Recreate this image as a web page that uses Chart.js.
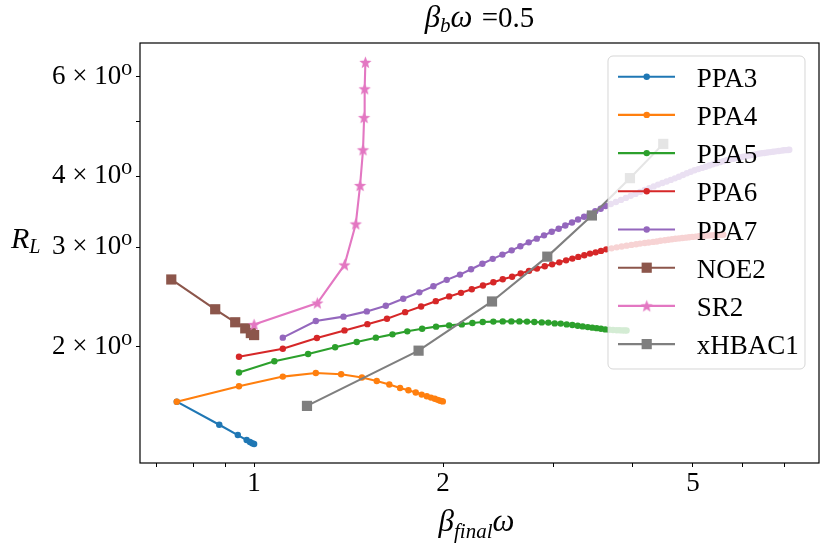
<!DOCTYPE html>
<html>
<head>
<meta charset="utf-8">
<script src="https://cdn.jsdelivr.net/npm/chart.js@4.4.0/dist/chart.umd.min.js"></script>
<style>
body { margin: 0; background: #fff; }
#wrap { width: 830px; height: 546px; }
</style>
</head>
<body>
<div id="wrap"><canvas id="c" width="830" height="546"></canvas></div>
<script>
// x = beta_final*omega, y = R_L, one pair of arrays per method
var ppa3X = [0.753, 0.880, 0.942, 0.973, 0.985, 0.993, 1.0];
var ppa3Y = [1.600, 1.457, 1.397, 1.369, 1.358, 1.351, 1.347];

var ppa4X = [0.753, 0.946, 1.111, 1.254, 1.376, 1.485, 1.568, 1.642, 1.708, 1.761, 1.809, 1.849, 1.884, 1.913, 1.940, 1.961, 1.978, 1.990, 1.998];
var ppa4Y = [1.600, 1.704, 1.772, 1.798, 1.789, 1.765, 1.741, 1.716, 1.692, 1.676, 1.661, 1.647, 1.636, 1.627, 1.619, 1.612, 1.607, 1.604, 1.602];

var ppa5X = [0.946, 1.077, 1.219, 1.346, 1.457, 1.563, 1.661, 1.754, 1.852, 1.949, 2.045, 2.142, 2.227, 2.313, 2.405, 2.489, 2.569, 2.646, 2.721, 2.795,
  2.872, 2.942, 3.012, 3.079, 3.147, 3.213, 3.277, 3.337, 3.400, 3.457, 3.513, 3.569, 3.626, 3.68, 3.73, 3.78, 3.82, 3.86, 3.89, 3.92];
var ppa5Y = [1.802, 1.886, 1.943, 1.996, 2.040, 2.076, 2.104, 2.130, 2.153, 2.171, 2.182, 2.191, 2.203, 2.212, 2.216, 2.218, 2.218, 2.218, 2.216, 2.212,
  2.209, 2.207, 2.200, 2.198, 2.191, 2.185, 2.179, 2.173, 2.167, 2.162, 2.158, 2.153, 2.147, 2.144, 2.142, 2.140, 2.139, 2.138, 2.138, 2.137];

var ppa6X = [0.946, 1.111, 1.259, 1.393, 1.515, 1.628, 1.740, 1.845, 1.947, 2.045, 2.136, 2.222, 2.315, 2.405, 2.489, 2.576, 2.659, 2.741, 2.822, 2.904,
  2.983, 3.063, 3.140, 3.213, 3.284, 3.357, 3.428, 3.500, 3.569, 3.639, 3.71, 3.78, 3.85, 3.92, 3.99, 4.06, 4.12, 4.19, 4.25, 4.32,
  4.38, 4.44, 4.51, 4.57, 4.63, 4.69, 4.75, 4.81, 4.87, 4.93, 4.99, 5.05, 5.11, 5.16, 5.22, 5.28, 5.33, 5.39, 5.44, 5.49, 5.54, 5.59];
var ppa6Y = [1.921, 1.985, 2.073, 2.138, 2.193, 2.242, 2.303, 2.357, 2.408, 2.455, 2.491, 2.527, 2.566, 2.600, 2.632, 2.660, 2.694, 2.724, 2.749, 2.775,
  2.797, 2.820, 2.843, 2.863, 2.883, 2.902, 2.922, 2.937, 2.954, 2.973, 2.985, 2.997, 3.007, 3.018, 3.027, 3.036, 3.043, 3.050, 3.057, 3.064,
  3.070, 3.078, 3.085, 3.091, 3.097, 3.103, 3.108, 3.113, 3.118, 3.123, 3.127, 3.131, 3.135, 3.138, 3.141, 3.144, 3.147, 3.149, 3.151, 3.153, 3.155, 3.156];

var ppa7X = [1.111, 1.254, 1.388, 1.512, 1.621, 1.728, 1.833, 1.930, 2.027, 2.128, 2.216, 2.310, 2.399, 2.486, 2.572, 2.655, 2.738, 2.820, 2.896, 2.979,
  3.056, 3.131, 3.209, 3.281, 3.355, 3.424, 3.495, 3.565, 3.631, 3.70, 3.77, 3.84, 3.91, 3.98, 4.05, 4.12, 4.19, 4.26, 4.33, 4.40,
  4.47, 4.54, 4.61, 4.68, 4.75, 4.82, 4.89, 4.96, 5.03, 5.10, 5.17, 5.24, 5.31, 5.38, 5.45, 5.52, 5.59, 5.66, 5.73, 5.80,
  5.87, 5.94, 6.01, 6.08, 6.15, 6.22, 6.29, 6.36, 6.43, 6.50, 6.57, 6.64, 6.71, 6.78, 6.85, 6.92, 6.98, 7.04, 7.09, 7.12];
var ppa7Y = [2.076, 2.221, 2.261, 2.310, 2.364, 2.432, 2.496, 2.559, 2.626, 2.683, 2.742, 2.803, 2.860, 2.910, 2.961, 3.010, 3.059, 3.105, 3.147, 3.194,
  3.233, 3.275, 3.316, 3.357, 3.394, 3.431, 3.470, 3.507, 3.546, 3.575, 3.605, 3.635, 3.665, 3.695, 3.725, 3.755, 3.784, 3.812, 3.840, 3.868,
  3.893, 3.918, 3.943, 3.968, 3.995, 4.022, 4.050, 4.075, 4.100, 4.120, 4.140, 4.160, 4.180, 4.200, 4.220, 4.238, 4.255, 4.270, 4.285, 4.298,
  4.310, 4.322, 4.333, 4.344, 4.355, 4.365, 4.375, 4.385, 4.393, 4.400, 4.408, 4.415, 4.422, 4.428, 4.436, 4.442, 4.447, 4.451, 4.454, 4.456];

var noe2X = [0.738, 0.867, 0.933, 0.968, 0.988, 1.0];
var noe2Y = [2.63, 2.33, 2.21, 2.156, 2.115, 2.098];

var sr2X = [1.0, 1.261, 1.393, 1.452, 1.475, 1.491, 1.497, 1.500, 1.504];
var sr2Y = [2.19, 2.39, 2.79, 3.296, 3.854, 4.455, 5.08, 5.71, 6.36];

var xhbacX = [1.214, 1.828, 2.393, 2.931, 3.452, 3.969, 4.485];
var xhbacY = [1.573, 1.969, 2.405, 2.886, 3.412, 3.971, 4.565];

var xTicks = [0.7, 0.8, 0.9, 1, 2, 3, 4, 5, 6, 7];
var xTickLabels = { 1: '1', 2: '2', 5: '5' };
var yTicks = [2, 3, 4, 5, 6];
var yTickLabels = { 2: '2 × 10⁰', 3: '3 × 10⁰', 4: '4 × 10⁰', 6: '6 × 10⁰' };

var serif = '"Liberation Serif", "DejaVu Serif", serif';

function makeStar(color, r) {
  var c = document.createElement('canvas');
  var s = Math.ceil(r * 2) + 2;
  c.width = s; c.height = s;
  var g = c.getContext('2d');
  g.fillStyle = color;
  g.beginPath();
  for (var i = 0; i < 10; i++) {
    var rr = i % 2 === 0 ? r : r * 0.42;
    var a = -Math.PI / 2 + i * Math.PI / 5;
    var px = s / 2 + rr * Math.cos(a), py = s / 2 + 0.5 + rr * Math.sin(a);
    if (i === 0) g.moveTo(px, py); else g.lineTo(px, py);
  }
  g.closePath();
  g.fill();
  return c;
}
var star = makeStar('#e377c2', 6.5);

function series(label, xs, ys, color, style, radius, order) {
  var pts = [];
  for (var i = 0; i < xs.length; i++) pts.push({ x: xs[i], y: ys[i] });
  return {
    label: label, data: pts, order: order,
    showLine: true, borderColor: color, backgroundColor: color, borderWidth: 2.1,
    pointStyle: style, pointRadius: radius, pointHoverRadius: radius,
    pointBackgroundColor: color, pointBorderColor: color, pointBorderWidth: 0
  };
}

var datasets = [
  series('PPA3', ppa3X, ppa3Y, '#1f77b4', 'circle', 3.2, 8),
  series('PPA4', ppa4X, ppa4Y, '#ff7f0e', 'circle', 3.2, 7),
  series('PPA5', ppa5X, ppa5Y, '#2ca02c', 'circle', 3.2, 6),
  series('PPA6', ppa6X, ppa6Y, '#d62728', 'circle', 3.2, 5),
  series('PPA7', ppa7X, ppa7Y, '#9467bd', 'circle', 3.2, 4),
  series('NOE2', noe2X, noe2Y, '#8c564b', 'rect', 7.2, 3),
  series('SR2', sr2X, sr2Y, '#e377c2', star, 6.5, 2),
  series('xHBAC1', xhbacX, xhbacY, '#7f7f7f', 'rect', 7.2, 1)
];

function drawMarker(ctx, ds, x, y) {
  var r = ds.pointRadius;
  ctx.fillStyle = ds.pointBackgroundColor;
  if (ds.pointStyle === 'circle') {
    ctx.beginPath(); ctx.arc(x, y, r, 0, Math.PI * 2); ctx.fill();
  } else if (ds.pointStyle === 'rect') {
    var s = r * Math.SQRT1_2;
    ctx.fillRect(x - s, y - s, 2 * s, 2 * s);
  } else {
    var im = ds.pointStyle;
    ctx.drawImage(im, x - im.width / 2, y - im.height / 2);
  }
}

var frameAndLegend = {
  id: 'frameAndLegend',
  afterDatasetsDraw: function(chart) {
    var ctx = chart.ctx, a = chart.chartArea;
    ctx.save();
    ctx.strokeStyle = '#000';
    ctx.lineWidth = 1.2;
    ctx.strokeRect(a.left, a.top, a.right - a.left, a.bottom - a.top);

    var w = 197, h = 313;
    var x0 = a.right - 14 - w, y0 = a.top + 13;
    ctx.beginPath();
    if (ctx.roundRect) ctx.roundRect(x0, y0, w, h, 5); else ctx.rect(x0, y0, w, h);
    ctx.fillStyle = 'rgba(255,255,255,0.8)';
    ctx.fill();
    ctx.strokeStyle = 'rgba(204,204,204,0.8)';
    ctx.lineWidth = 1;
    ctx.stroke();

    ctx.font = '27px ' + serif;
    ctx.textAlign = 'left';
    ctx.textBaseline = 'alphabetic';
    chart.data.datasets.forEach(function(ds, i) {
      var cy = y0 + 20.7 + i * 38.2;
      ctx.strokeStyle = ds.borderColor;
      ctx.lineWidth = 2.1;
      ctx.beginPath(); ctx.moveTo(x0 + 10, cy); ctx.lineTo(x0 + 67, cy); ctx.stroke();
      drawMarker(ctx, ds, x0 + 38.7, cy);
      ctx.fillStyle = '#000';
      ctx.fillText(ds.label, x0 + 88.7, cy + 10);
    });
    ctx.restore();
  }
};

function drawPieces(ctx, pieces, x, y) {
  var cx = x;
  pieces.forEach(function(p) {
    ctx.font = p.f;
    ctx.fillText(p.t, cx, y + (p.dy || 0));
    cx += ctx.measureText(p.t).width + (p.gap || 0);
  });
}
function piecesWidth(ctx, pieces) {
  var w = 0;
  pieces.forEach(function(p) { ctx.font = p.f; w += ctx.measureText(p.t).width + (p.gap || 0); });
  return w;
}

var mathText = {
  id: 'mathText',
  afterDraw: function(chart) {
    var ctx = chart.ctx, a = chart.chartArea;
    ctx.save();
    ctx.fillStyle = '#000';
    ctx.textAlign = 'left';
    ctx.textBaseline = 'alphabetic';
    var mid = (a.left + a.right) / 2;

    var title = [
      { t: 'β', f: 'italic 31px ' + serif },
      { t: 'b', f: 'italic 21px ' + serif, dy: 5 },
      { t: 'ω', f: 'italic 31px ' + serif, gap: 2 },
      { t: ' =0.5', f: '29px ' + serif }
    ];
    drawPieces(ctx, title, mid - piecesWidth(ctx, title) / 2, a.top - 16);

    var xl = [
      { t: 'β', f: 'italic 31px ' + serif },
      { t: 'final', f: 'italic 21px ' + serif, dy: 7 },
      { t: 'ω', f: 'italic 31px ' + serif }
    ];
    drawPieces(ctx, xl, mid - 3 - piecesWidth(ctx, xl) / 2, 531);

    var yl = [
      { t: 'R', f: 'italic 30px ' + serif },
      { t: 'L', f: 'italic 20px ' + serif, dy: 5 }
    ];
    drawPieces(ctx, yl, 11, 248);
    ctx.restore();
  }
};

new Chart(document.getElementById('c'), {
  type: 'scatter',
  data: { datasets: datasets },
  plugins: [frameAndLegend, mathText],
  options: {
    responsive: false,
    animation: false,
    layout: { padding: { top: 43, right: 11, left: 0, bottom: 0 } },
    plugins: { legend: { display: false }, tooltip: { enabled: false } },
    scales: {
      x: {
        type: 'logarithmic', min: 0.658, max: 7.94,
        afterBuildTicks: function(s) { s.ticks = xTicks.map(function(v) { return { value: v }; }); },
        afterFit: function(s) { s.height = 83; },
        grid: { drawOnChartArea: false, tickLength: 4, color: '#000', tickColor: '#000' },
        border: { display: false },
        ticks: {
          autoSkip: false, maxRotation: 0, padding: 1, color: '#000',
          font: { family: serif, size: 27 },
          callback: function(v) { return xTickLabels[v] || ''; }
        }
      },
      y: {
        type: 'logarithmic', min: 1.247, max: 6.88,
        afterBuildTicks: function(s) { s.ticks = yTicks.map(function(v) { return { value: v }; }); },
        afterFit: function(s) { s.width = 140; },
        grid: { drawOnChartArea: false, tickLength: 4, color: '#000', tickColor: '#000' },
        border: { display: false },
        ticks: {
          autoSkip: false, padding: 4, color: '#000',
          font: { family: serif, size: 27 },
          callback: function(v) { return yTickLabels[v] || ''; }
        }
      }
    }
  }
});
</script>
</body>
</html>
